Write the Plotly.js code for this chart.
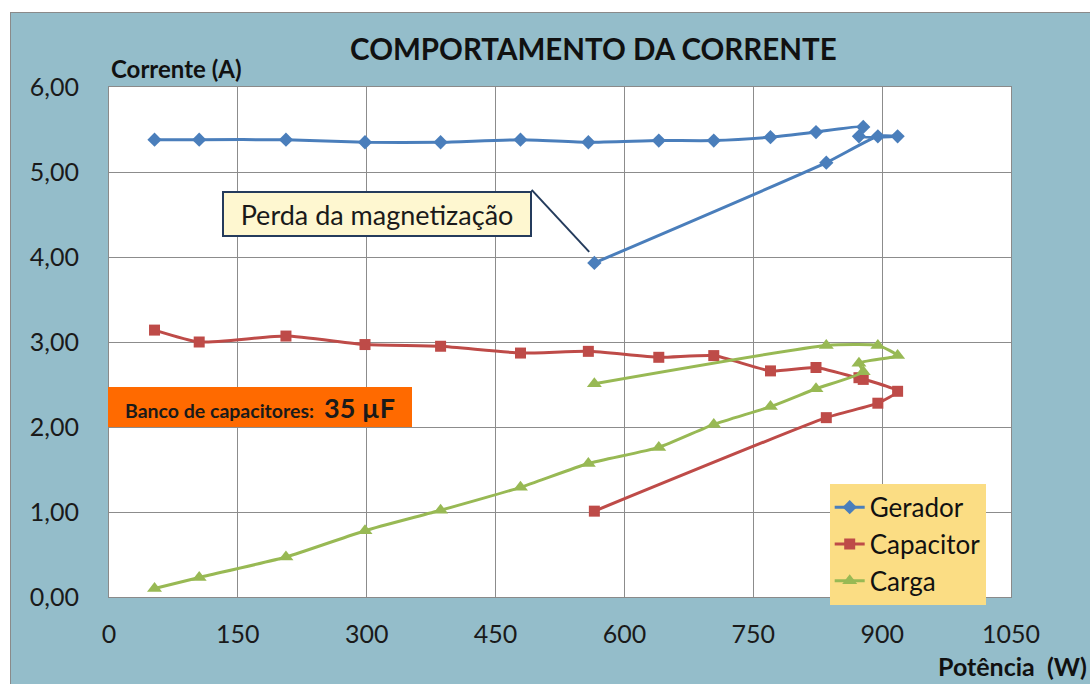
<!DOCTYPE html>
<html>
<head>
<meta charset="utf-8">
<script src="https://cdn.plot.ly/plotly-3.0.1.min.js"></script>
<style>
  html, body { margin: 0; padding: 0; background: #ffffff; }
  #chart { position: absolute; left: 10px; top: 12px; width: 1079px; height: 671px;
           border-left: 1px solid #8a8a8a; border-top: 1px solid #8a8a8a; }
</style>
</head>
<body>
<div id="chart"></div>
<script>
// Potência (W) – shared by the three series
var potencia  = [53, 105, 206, 298, 386, 479, 558, 640, 704, 770, 823, 878, 873, 918, 895, 835, 565];
// Corrente (A)
var gerador   = [5.38, 5.38, 5.38, 5.35, 5.35, 5.38, 5.35, 5.37, 5.37, 5.41, 5.47, 5.53, 5.42, 5.42, 5.42, 5.11, 3.93];
var capacitor = [3.14, 3.00, 3.07, 2.97, 2.95, 2.87, 2.89, 2.82, 2.84, 2.66, 2.70, 2.56, 2.58, 2.42, 2.28, 2.11, 1.01];
var carga     = [0.10, 0.23, 0.47, 0.78, 1.02, 1.29, 1.57, 1.76, 2.03, 2.24, 2.45, 2.65, 2.75, 2.84, 2.96, 2.96, 2.51];
var seriesNames = ["Gerador", "Capacitor", "Carga"];
var xTicks = [0, 150, 300, 450, 600, 750, 900, 1050];
var yTicks = [0, 1, 2, 3, 4, 5, 6];

var FONT = "Lato, 'Noto Sans', sans-serif";
var lineShape = {shape: "spline", smoothing: 0.5, width: 3};

var traces = [
  {x: potencia, y: gerador, name: seriesNames[0], mode: "lines+markers", type: "scatter",
   line: Object.assign({color: "#4A7EBB"}, lineShape),
   marker: {symbol: "diamond", size: 11, color: "#4A7EBB"}},
  {x: potencia, y: capacitor, name: seriesNames[1], mode: "lines+markers", type: "scatter",
   line: Object.assign({color: "#BE4B48"}, lineShape),
   marker: {symbol: "square", size: 11, color: "#BE4B48"}},
  {x: potencia, y: carga, name: seriesNames[2], mode: "lines+markers", type: "scatter",
   line: Object.assign({color: "#98B954"}, lineShape),
   marker: {symbol: "triangle-up", size: 13, color: "#98B954"}}
];

var layout = {
  width: 1079, height: 671,
  margin: {l: 98, r: 79, t: 74, b: 87},
  paper_bgcolor: "#94BDCA",
  plot_bgcolor: "#ffffff",
  separators: ",.",
  font: {family: FONT, color: "#161616"},
  showlegend: true,
  title: {text: "<b>COMPORTAMENTO DA CORRENTE</b>", font: {family: FONT, size: 29.5, color: "#111111"},
          x: 0.537, xref: "paper", xanchor: "center", y: 0.945, yref: "container", yanchor: "middle"},
  xaxis: {range: [0, 1050], tickvals: xTicks, tickformat: "d", showgrid: true, gridcolor: "#8c8c8c",
          gridwidth: 1, showline: true, linecolor: "#8a8a8a", linewidth: 1, mirror: true,
          ticks: "", zeroline: false, tickfont: {family: FONT, size: 25, color: "#1a1a1a"},
          ticklabelstandoff: 15, fixedrange: true},
  yaxis: {range: [0, 6], tickvals: yTicks, tickformat: ".2f", showgrid: true, gridcolor: "#8c8c8c",
          gridwidth: 1, showline: true, linecolor: "#8a8a8a", linewidth: 1, mirror: true,
          ticks: "", zeroline: false, tickfont: {family: FONT, size: 25, color: "#1a1a1a"},
          ticklabelstandoff: 24, fixedrange: true},
  legend: {x: 0.799, y: 0.222, xanchor: "left", yanchor: "top", bgcolor: "#FBDD84",
           borderwidth: 0, font: {family: FONT, size: 26, color: "#111111"},
           itemwidth: 30, tracegroupgap: 0},
  shapes: [
    {type: "line", xref: "x", yref: "y", x0: 492, y0: 4.79, x1: 559, y1: 4.06,
     line: {color: "#243B5C", width: 2}}
  ],
  annotations: [
    {xref: "paper", yref: "paper", x: 0, y: 1.0, xanchor: "left", yanchor: "bottom",
     yshift: 2, showarrow: false, text: "<b>Corrente (A)</b>",
     font: {family: FONT, size: 24, color: "#111111"}},
    {xref: "paper", yref: "paper", x: 1.086, y: -0.135, xanchor: "right", yanchor: "middle",
     showarrow: false, text: "<b>Potência\u00a0 (W)</b>",
     font: {family: FONT, size: 25, color: "#111111"}},
    {xref: "x", yref: "y", x: 312, y: 4.51, xanchor: "center", yanchor: "middle",
     showarrow: false, text: "Perda da magnetização", width: 302, height: 38, borderpad: 2,
     bgcolor: "#FEF7D0", bordercolor: "#243B5C", borderwidth: 2,
     font: {family: FONT, size: 27, color: "#1a1a1a"}},
    {xref: "paper", yref: "paper", x: 0.1674, y: 0.3725, xanchor: "center", yanchor: "middle",
     showarrow: false,
     text: "<b>Banco de capacitores:</b>  <span style='font-size:27px'><b>35 µF</b></span>",
     width: 300, height: 36, borderpad: 2, bgcolor: "#FF6A00", borderwidth: 0,
     font: {family: FONT, size: 19.5, color: "#1a1a1a"}}
  ]
};

Plotly.newPlot("chart", traces, layout, {displayModeBar: false, staticPlot: true});
</script>
</body>
</html>
